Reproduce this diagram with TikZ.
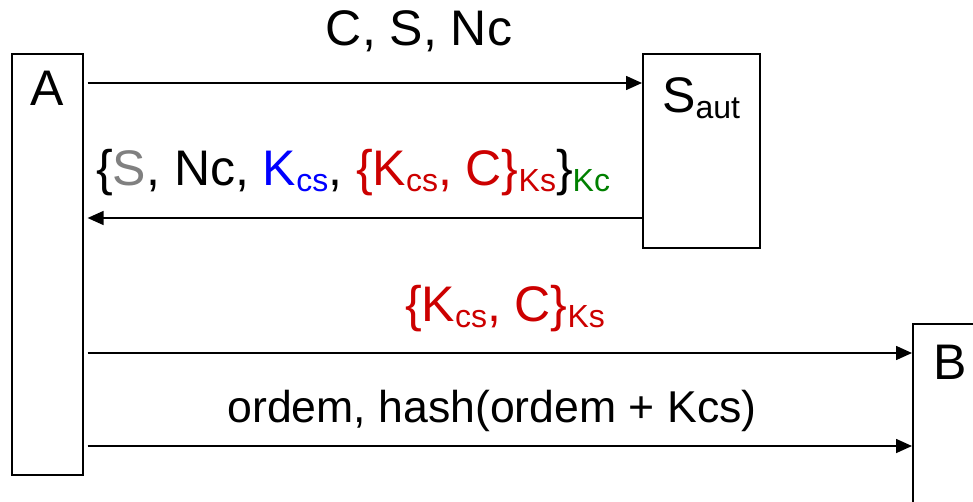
\documentclass[tikz,border=0pt]{standalone}
\usepackage{fontspec}
\setmainfont{Liberation Sans}
\usetikzlibrary{arrows.meta,calc}
\definecolor{sgray}{RGB}{128,128,128}
\definecolor{kblue}{RGB}{0,0,255}
\definecolor{kred}{RGB}{204,0,0}
\definecolor{kgreen}{RGB}{0,128,0}
\newcommand\mysub[1]{\raisebox{-6pt}{\fontsize{32}{32}\selectfont #1}}
\tikzset{
  party/.style={draw=black, line width=1.6pt, minimum width=#1, inner sep=0pt, anchor=north west},
  big/.style={font=\fontsize{50}{60}\selectfont, inner sep=0pt},
  msg/.style={line width=1.6pt, -{Triangle[length=16pt,width=14pt]}},
}
\begin{document}
\begin{tikzpicture}[x=1pt,y=-1pt]
\useasboundingbox (0,0) rectangle (973,502);
\clip (0,0) rectangle (973,502);
% boxes
\node[party=71pt, minimum height=421pt] (A) at (11,53) {};
\node[party=117pt, minimum height=194pt] (S) at (642,53) {};
\node[party=140pt, minimum height=240pt] (B) at (912,323) {};
% box titles
\node[big, anchor=north] (At) at ($(A.north)+(0,18)$) {A};
\node[big, anchor=north west] (St) at ($(S.north west)+(20,24)$) {S\mysub{aut}};
\node[big, anchor=north west] (Bt) at ($(B.north west)+(21,22)$) {B};
% connector end points
\coordinate (a1) at ($(A.north east)+(4,30)$);
\coordinate (a2) at ($(A.north east)+(4,165)$);
\coordinate (a3) at ($(A.north east)+(4,300)$);
\coordinate (a4) at ($(A.north east)+(4,393)$);
\draw[msg] (a1) -- (a1 -| S.west);
\draw[msg] (a2 -| S.west) -- (a2);
\draw[msg] (a3) -- (a3 -| B.west);
\draw[msg] (a4) -- (a4 -| B.west);
% labels
\node[big] (m1) at (419,31) {C, S, Nc};
\node[big, anchor=west] (m2) at (96,173) {\{\textcolor{sgray}{S}, Nc, \textcolor{kblue}{K\mysub{cs}}, \textcolor{kred}{\{K\mysub{cs}, C\}\mysub{Ks}}\}\textcolor{kgreen}{\mysub{Kc}}};
\node[big, text=kred] (m3) at (505,309) {\{K\mysub{cs}, C\}\mysub{Ks}};
\node[inner sep=0pt, font=\fontsize{44.6}{54}\selectfont] (m4) at (492,411) {ordem, hash(ordem + Kcs)};
\end{tikzpicture}
\end{document}
